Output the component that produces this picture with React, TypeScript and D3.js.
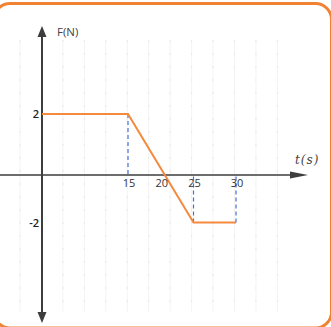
import React from 'react';
import * as d3 from 'd3';

// force vs time, piecewise
const times = [0, 15, 25, 30];
const forces = [2, 2, -2, -2];
const xTickValues = [15, 20, 25, 30];
const yTickValues = [2, -2];
// points dropped to the t axis with dashed guides
const guideTimes = [15, 25, 30];

const W = 331;
const H = 327;

const App = () => {
  // the source figure is hand drawn, so the scales are piecewise
  const x = d3.scaleLinear().domain([0, 15, 25, 30]).range([42, 128, 193.5, 236]);
  const y = d3.scaleLinear().domain([-2, 0, 2]).range([222.5, 175, 114]);

  const x0 = x(0);
  const y0 = y(0);

  const line = d3.line<number>()
    .x((_, i) => x(times[i]))
    .y(d => y(d));

  const gridX = d3.range(20, 290, 21.45);

  const axisColor = '#3d3d3d';
  const labelFont = "'Open Sans', 'DejaVu Sans', sans-serif";

  return (
    <svg width={W} height={H} style={{ position: 'absolute', left: 0, top: 0, background: '#fff' }}>
      {/* faint grid */}
      <g>
        {gridX.map((gx, i) => (
          <g key={i}>
            <line x1={gx} x2={gx} y1={40} y2={312} stroke="#f4f4f4" strokeWidth={1} />
            <line x1={gx} x2={gx} y1={40} y2={312} stroke="#e9e9e9" strokeWidth={1} strokeDasharray="2 11" />
          </g>
        ))}
      </g>

      {/* y axis */}
      <line x1={x0} x2={x0} y1={32} y2={316} stroke={axisColor} strokeWidth={2} />
      <path d={`M${x0},26 L${x0 - 4.5},37 L${x0 + 4.5},37 Z`} fill={axisColor} />
      <path d={`M${x0},323 L${x0 - 4.5},312 L${x0 + 4.5},312 Z`} fill={axisColor} />

      {/* t axis */}
      <line x1={0} x2={296} y1={y0} y2={y0} stroke={axisColor} strokeWidth={1.5} />
      <path d={`M308,${y0} L290,${y0 - 3.5} L290,${y0 + 3.5} Z`} fill={axisColor} />

      {/* dashed guides */}
      {guideTimes.map(t => {
        const i = times.indexOf(t);
        return (
          <line key={t} x1={x(t)} x2={x(t)} y1={y(forces[i])} y2={y0}
            stroke="#4a6fd6" strokeWidth={1.2} strokeDasharray="4 3" />
        );
      })}

      {/* force curve */}
      <path d={line(forces) || ''} fill="none" stroke="#f48a3e" strokeWidth={2} />

      {/* tick labels */}
      {xTickValues.map(t => (
        <text key={t} x={x(t) + 1} y={y0 + 12} textAnchor="middle" fontFamily={labelFont}
          fontSize={11} fill="#333">{t}</text>
      ))}
      {yTickValues.map(v => (
        <text key={v} x={x0 - 3} y={y(v) + 4} textAnchor="end" fontFamily={labelFont}
          fontSize={11} fill="#222" fontWeight={600}>{v}</text>
      ))}

      {/* axis titles */}
      <text x={57} y={36} fontFamily={labelFont} fontSize={11.5} fill="#444">F(N)</text>
      <text x={295} y={164} fontFamily="'DejaVu Serif', serif" fontStyle="italic" fontSize={12} fill="#444" letterSpacing={1}>t(s)</text>

      {/* frame */}
      <rect x={-6} y={3.5} width={337.5} height={324.5} rx={16} fill="none" stroke="#f08232" strokeWidth={3} />
    </svg>
  );
};

export default App;
